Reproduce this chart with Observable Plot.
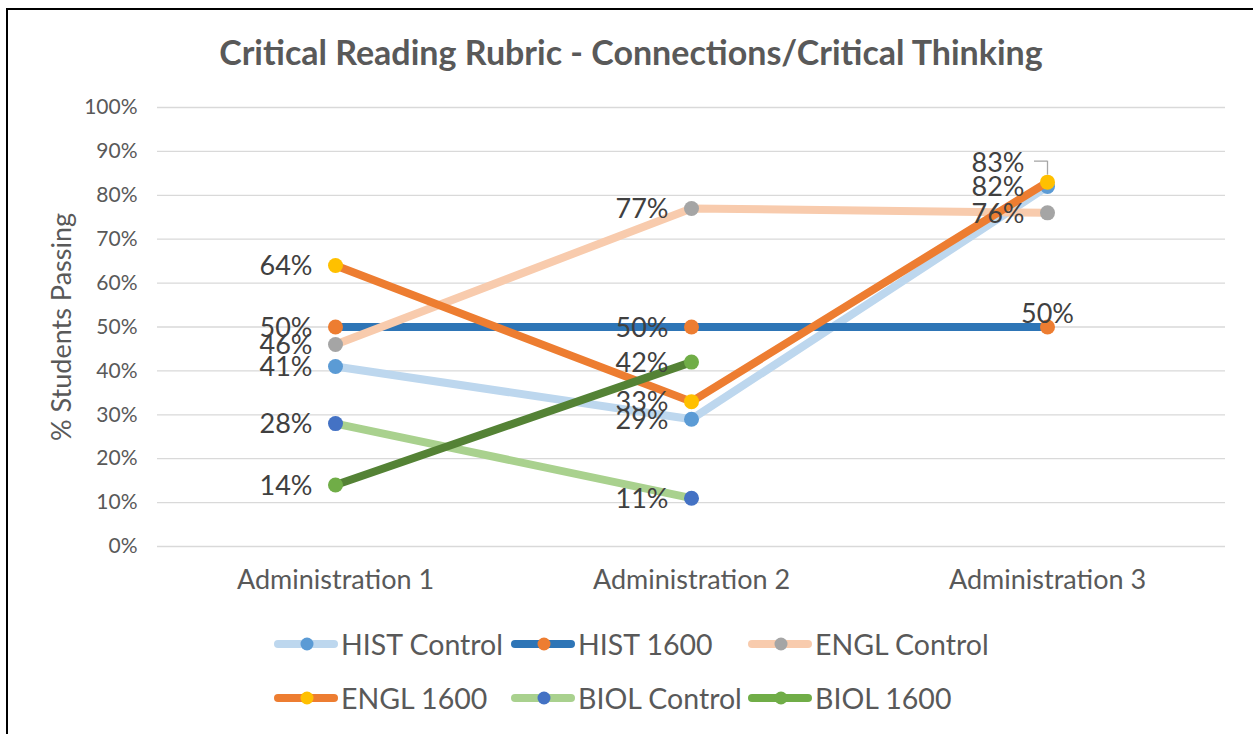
<!DOCTYPE html>
<html>
<head>
<meta charset="utf-8">
<script src="https://cdn.jsdelivr.net/npm/d3@7"></script>
<script src="https://cdn.jsdelivr.net/npm/@observablehq/plot@0.6"></script>
<style>
  html, body { margin: 0; padding: 0; background: #fff; }
  body { width: 1253px; height: 734px; position: relative; overflow: hidden; font-family: Lato, "Open Sans", sans-serif; }
  #frame { position: absolute; left: 6px; top: 8px; width: 1400px; height: 900px; border-left: 2px solid #000; border-top: 2px solid #000; }
  #title { position: absolute; left: 0; top: 30px; width: 1262px; text-align: center; font-size: 34px; line-height: 44px; font-weight: bold; color: #595959; }
  #chart { position: absolute; left: 0; top: 90px; }
  .leg { position: absolute; display: flex; align-items: center; font-size: 28.5px; color: #595959; white-space: nowrap; }
  .leg svg { margin-right: 3px; }
</style>
</head>
<body>
<div id="frame"></div>
<div id="title">Critical Reading Rubric - Connections/Critical Thinking</div>
<div id="chart"></div>
<div id="legend"></div>
<script>
// ---- data ----
const categories = ["Administration 1", "Administration 2", "Administration 3"];
const seriesNames = ["HIST Control", "HIST 1600", "ENGL Control", "ENGL 1600", "BIOL Control", "BIOL 1600"];
const histControl = [41, 29, 82];
const hist1600 = [50, 50, 50];
const englControl = [46, 77, 76];
const engl1600 = [64, 33, 83];
const biolControl = [28, 11, null];
const biol1600 = [14, 42, null];
const yTicks = [0, 10, 20, 30, 40, 50, 60, 70, 80, 90, 100];

// ---- styles ----
const lineColors = ["#BDD7EE", "#2E75B6", "#F8CBAD", "#ED7D31", "#A9D18E", "#548235"];
const markerColors = ["#5B9BD5", "#ED7D31", "#A5A5A5", "#FFC000", "#4472C4", "#70AD47"];
const legendLineColors = ["#BDD7EE", "#2E75B6", "#F8CBAD", "#ED7D31", "#A9D18E", "#70AD47"];
const labelPlacement = {"HIST 1600|Administration 3": "above", "ENGL 1600|Administration 3": "leader"};

const seriesValues = [histControl, hist1600, englControl, engl1600, biolControl, biol1600];
const rows = [];
seriesNames.forEach((s, i) => {
  seriesValues[i].forEach((v, j) => {
    if (v != null) rows.push({series: s, idx: i, cat: categories[j], value: v, place: labelPlacement[s + "|" + categories[j]] || "left"});
  });
});

const marks = [];
marks.push(Plot.ruleY(yTicks, {stroke: "#D9D9D9", strokeWidth: 1.3}));
seriesNames.forEach((s, i) => {
  const d = rows.filter(r => r.series === s);
  marks.push(Plot.line(d, {x: "cat", y: "value", stroke: lineColors[i], strokeWidth: 8, strokeLinejoin: "round", strokeLinecap: "round"}));
  marks.push(Plot.dot(d, {x: "cat", y: "value", r: 7.5, fill: markerColors[i], stroke: "none"}));
});
const labelStyle = {x: "cat", y: "value", text: d => d.value + "%", fontSize: 27, fill: "#404040"};
marks.push(Plot.text(rows.filter(r => r.place === "left"), {...labelStyle, textAnchor: "end", dx: -23, dy: 1}));
marks.push(Plot.text(rows.filter(r => r.place === "above"), {...labelStyle, textAnchor: "middle", dy: -13}));
const leaderRows = rows.filter(r => r.place === "leader");
marks.push(Plot.text(leaderRows, {...labelStyle, textAnchor: "end", dx: -23, dy: -19}));
marks.push(Plot.ruleY(leaderRows, {x1: "cat", x2: "cat", y: "value", dy: -21, insetLeft: -13, insetRight: 0, stroke: "#A6A6A6", strokeWidth: 1.3}));
marks.push(Plot.ruleX(leaderRows, {x: "cat", y1: "value", y2: "value", insetTop: -21, insetBottom: 7, stroke: "#A6A6A6", strokeWidth: 1.3}));
marks.push(Plot.axisY(yTicks, {tickSize: 0, tickPadding: 20, tickFormat: d => d + "%", fontSize: 21, color: "#595959", label: null}));
marks.push(Plot.axisX({tickSize: 0, tickPadding: 23, fontSize: 27, color: "#595959", label: null}));
marks.push(Plot.text(["% Students Passing"], {frameAnchor: "left", textAnchor: "middle", text: d => d, rotate: -90, dx: -95, fontSize: 27, fill: "#595959"}));

const chart = Plot.plot({
  width: 1253,
  height: 520,
  marginTop: 17,
  marginBottom: 64,
  marginLeft: 157,
  marginRight: 28,
  style: {fontFamily: "Lato, 'Open Sans', sans-serif", background: "transparent", overflow: "visible"},
  x: {type: "point", domain: categories, padding: 0.5},
  y: {domain: [0, 100]},
  marks
});
document.getElementById("chart").appendChild(chart);

// ---- legend ----
const legendPos = [[272, 644], [509, 644], [746, 644], [272, 698], [509, 698], [746, 698]];
const legend = document.getElementById("legend");
seriesNames.forEach((s, i) => {
  const el = document.createElement("div");
  el.className = "leg";
  el.style.left = legendPos[i][0] + "px";
  el.style.top = (legendPos[i][1] - 20) + "px";
  el.style.height = "40px";
  el.innerHTML = `<svg width="66" height="20" viewBox="0 0 66 20"><line x1="6" y1="10" x2="62" y2="10" stroke="${legendLineColors[i]}" stroke-width="8" stroke-linecap="round"/><circle cx="35" cy="10" r="6.5" fill="${markerColors[i]}"/></svg><span>${s}</span>`;
  legend.appendChild(el);
});
</script>
</body>
</html>
